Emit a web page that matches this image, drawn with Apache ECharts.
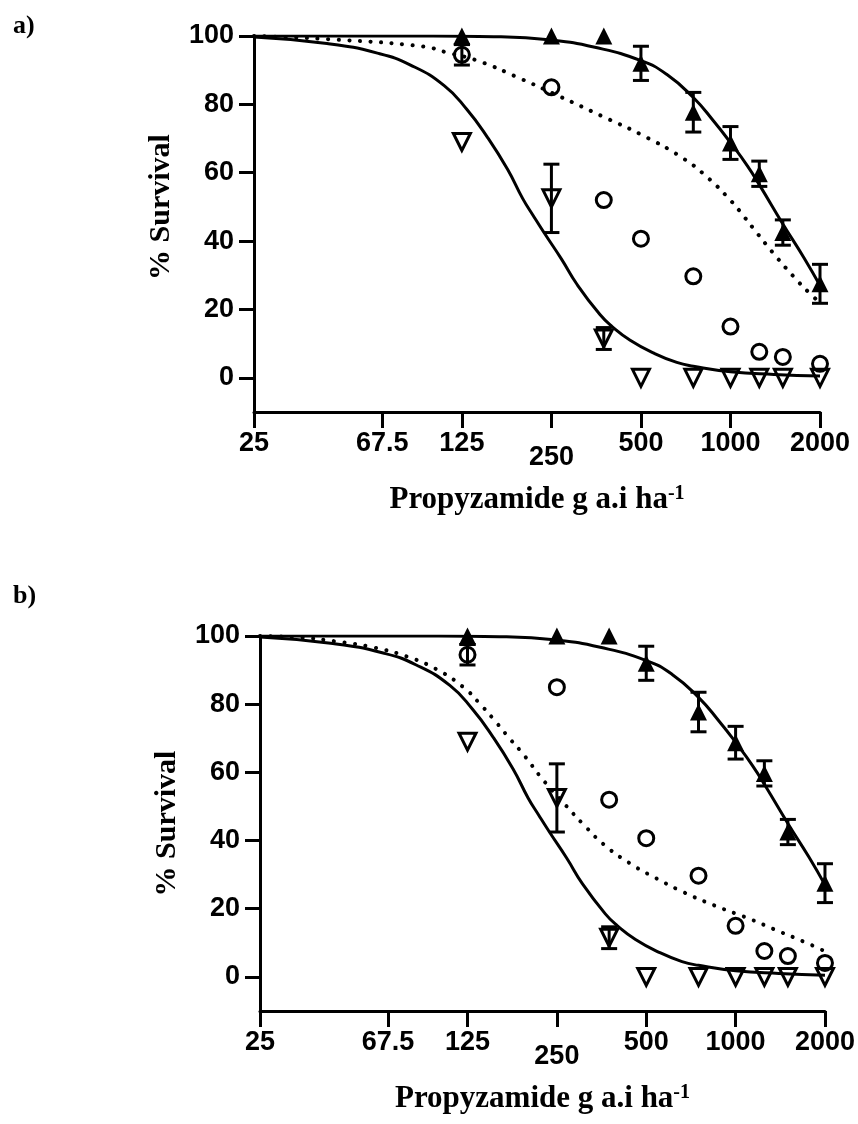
<!DOCTYPE html>
<html>
<head>
<meta charset="utf-8">
<title>Propyzamide dose response</title>
<script src="https://cdn.jsdelivr.net/npm/echarts@6/dist/echarts.min.js"></script>
<style>
  html, body { margin: 0; padding: 0; background: #fff; }
  #chart { width: 858px; height: 1124px; }
</style>
</head>
<body>
<div id="chart"></div>
<script>
// axis ticks
const xTicks = [25, 67.5, 125, 250, 500, 1000, 2000];
const yTicks = [0, 20, 40, 60, 80, 100];

// observed doses (g a.i ha-1)
const doses = [125, 250, 375, 500, 750, 1000, 1250, 1500, 2000];
// filled triangles
const triMean = [100, 100, 100, 92, 77.7, 68.7, 59.7, 42.5, 27.5];
const triErrLo = [2.5, 0, 0, 5, 5.8, 4.8, 3.7, 3.7, 5.7];
const triErrHi = [0, 0, 0, 5, 5.8, 4.8, 3.7, 3.7, 5.7];
// open circles
const circMean = [94.5, 85, 52, 40.7, 29.7, 15, 7.6, 6.1, 4.1];
const circErrLo = [3, 0, 0, 0, 0, 0, 0, 0, 0];
const circErrHi = [3, 0, 0, 0, 0, 0, 0, 0, 0];
// open inverted triangles
const invMean = [69, 52.5, 11.5, 0, 0, 0, 0, 0, 0];
const invErrLo = [0, 10, 3.2, 0, 0, 0, 0, 0, 0];
const invErrHi = [0, 10, 3.2, 0, 0, 0, 0, 0, 0];

// fitted curves
const fitTriDose = [25, 100, 160, 250, 350, 500, 610, 750, 880, 1000, 1140, 1260, 1500, 1770, 2000];
const fitTriVal = [100, 100, 99.8, 98.8, 96.7, 92.8, 88.8, 82, 75, 68.8, 62, 56, 45, 35, 27];
const fitInvDose = [25, 44, 65, 84, 109, 130, 152, 178, 200, 217, 236, 270, 305, 364, 400, 460, 550, 660, 750, 1000, 1400, 2000];
const fitInvVal = [99.7, 97.8, 95, 91.5, 85.5, 78.5, 70.5, 61, 52.5, 47.5, 42.5, 34.8, 27.3, 18.5, 15, 11, 7.3, 4.5, 3.4, 1.8, 1, 0.5];
// dotted fit, panel a
const fitCircADose = [25, 46, 93, 111, 142, 196, 267, 369, 505, 685, 830, 1008, 1117, 1192, 1392, 1647, 1858, 2000];
const fitCircAVal = [100, 99, 96.9, 95.2, 92.7, 87.6, 82.3, 76.6, 71, 64.5, 58.9, 51.6, 46.9, 43.8, 36.5, 29.2, 24.5, 22];
// dotted fit, panel b
const fitCircBDose = [25, 34, 46, 60, 78, 98, 121, 137, 154, 173, 194, 226, 268, 305, 366, 450, 525, 662, 846, 1117, 1345, 1700, 2000];
const fitCircBVal = [100, 99.6, 98.3, 96.7, 94, 90.3, 85, 80.3, 75.3, 70, 65, 57.5, 50.3, 45, 38.3, 32.8, 29.5, 25, 21, 17, 14, 10.3, 7.5];

const lg = d => Math.log10(d);
const pairs = (xs, ys) => xs.map((x, i) => [lg(x), ys[i]]);

const black = '#000';
const sans = 'Liberation Sans, Arial, sans-serif';
const serif = 'Liberation Serif, Times New Roman, serif';

const tickFmt = v => {
  const t = xTicks.find(t => Math.abs(lg(t) - v) < 1e-6);
  if (t === undefined) return '';
  return t === 250 ? '{low|250}' : String(t);
};

const makeX = idx => ({
  type: 'value', gridIndex: idx,
  min: lg(25), max: lg(2000),
  name: '{n|Propyzamide g a.i ha}{s|-1}',
  nameLocation: 'middle', nameGap: 72,
  nameTextStyle: {
    rich: {
      n: { fontFamily: serif, fontWeight: 'bold', fontSize: 31, color: black },
      s: { fontFamily: serif, fontWeight: 'bold', fontSize: 20, color: black, verticalAlign: 'top' }
    }
  },
  axisLine: { onZero: false, lineStyle: { color: black, width: 3 } },
  axisTick: { customValues: xTicks.map(lg), length: 16, lineStyle: { color: black, width: 3 } },
  axisLabel: {
    customValues: xTicks.map(lg), formatter: tickFmt, margin: 18,
    fontFamily: sans, fontWeight: 'bold', fontSize: 27, color: black,
    rich: { low: { fontFamily: sans, fontWeight: 'bold', fontSize: 27, color: black, padding: [14, 0, 0, 0] } }
  },
  splitLine: { show: false }
});

const makeY = (idx, shift) => ({
  type: 'value', gridIndex: idx, min: -10, max: 100,
  name: '% Survival', nameLocation: 'middle', nameGap: 78,
  nameTextStyle: { fontFamily: serif, fontWeight: 'bold', fontSize: 30, color: black, padding: [0, 0, 0, shift] },
  axisLine: { show: true, onZero: false, lineStyle: { color: black, width: 3 } },
  axisTick: { show: true, customValues: yTicks, length: 15, lineStyle: { color: black, width: 3 } },
  axisLabel: { customValues: yTicks, margin: 20, fontFamily: sans, fontWeight: 'bold', fontSize: 27, color: black },
  splitLine: { show: false }
});

const lineSeries = (idx, xs, ys, dotted) => ({
  type: 'line', xAxisIndex: idx, yAxisIndex: idx,
  data: pairs(xs, ys), smooth: 0.5,
  showSymbol: false, silent: true, z: 2,
  lineStyle: dotted
    ? { color: black, width: 4, type: [0.1, 10.5], cap: 'round', opacity: 1 }
    : { color: black, width: 3, opacity: 1 }
});

const errorSeries = (idx, mean, lo, hi) => {
  const data = [];
  doses.forEach((d, k) => {
    if (lo[k] > 0 || hi[k] > 0) data.push([lg(d), mean[k] - lo[k], mean[k] + hi[k], mean[k]]);
  });
  return {
    type: 'custom', xAxisIndex: idx, yAxisIndex: idx, z: 3, silent: true,
    data: data, encode: { x: 0, y: [1, 2] },
    renderItem: (params, api) => {
      const x = api.value(0);
      const pLo = api.coord([x, api.value(1)]);
      const pHi = api.coord([x, api.value(2)]);
      const pMid = api.coord([x, api.value(3)]);
      const w = 8;
      const st = () => ({ stroke: black, lineWidth: 3 });
      const kids = [{ type: 'line', shape: { x1: pLo[0], y1: pLo[1], x2: pHi[0], y2: pHi[1] }, style: st() }];
      if (pHi[1] < pMid[1] - 0.5) kids.push({ type: 'line', shape: { x1: pHi[0] - w, y1: pHi[1], x2: pHi[0] + w, y2: pHi[1] }, style: st() });
      if (pLo[1] > pMid[1] + 0.5) kids.push({ type: 'line', shape: { x1: pLo[0] - w, y1: pLo[1], x2: pLo[0] + w, y2: pLo[1] }, style: st() });
      return { type: 'group', children: kids };
    }
  };
};

const scatterSeries = (idx, mean, kind) => {
  const s = {
    type: 'scatter', xAxisIndex: idx, yAxisIndex: idx, z: 4, silent: true,
    data: pairs(doses, mean)
  };
  if (kind === 'tri') {
    s.symbol = 'triangle'; s.symbolSize = 17;
    s.itemStyle = { color: black, opacity: 1 };
  } else if (kind === 'circ') {
    s.symbol = 'circle'; s.symbolSize = 15;
    s.itemStyle = { color: 'rgba(0,0,0,0)', borderColor: black, borderWidth: 3, opacity: 1 };
  } else {
    s.symbol = 'triangle'; s.symbolSize = 17; s.symbolRotate = 180;
    s.itemStyle = { color: 'rgba(0,0,0,0)', borderColor: black, borderWidth: 3, opacity: 1 };
  }
  return s;
};

const panel = (idx, circDose, circVal) => [
  lineSeries(idx, fitTriDose, fitTriVal, false),
  lineSeries(idx, fitInvDose, fitInvVal, false),
  lineSeries(idx, circDose, circVal, true),
  errorSeries(idx, triMean, triErrLo, triErrHi),
  errorSeries(idx, circMean, circErrLo, circErrHi),
  errorSeries(idx, invMean, invErrLo, invErrHi),
  scatterSeries(idx, triMean, 'tri'),
  scatterSeries(idx, circMean, 'circ'),
  scatterSeries(idx, invMean, 'inv')
];

const chart = echarts.init(document.getElementById('chart'));
chart.setOption({
  animation: false,
  backgroundColor: '#fff',
  title: [
    { text: 'a)', left: 8, top: 8, textStyle: { fontFamily: serif, fontWeight: 'bold', fontSize: 26, color: black } },
    { text: 'b)', left: 8, top: 578, textStyle: { fontFamily: serif, fontWeight: 'bold', fontSize: 26, color: black } }
  ],
  grid: [
    { left: 254, top: 36, width: 566, height: 376 },
    { left: 260, top: 636, width: 566, height: 375 }
  ],
  xAxis: [makeX(0), makeX(1)],
  yAxis: [makeY(0, 34), makeY(1, 0)],
  series: panel(0, fitCircADose, fitCircAVal).concat(panel(1, fitCircBDose, fitCircBVal))
});
</script>
</body>
</html>
